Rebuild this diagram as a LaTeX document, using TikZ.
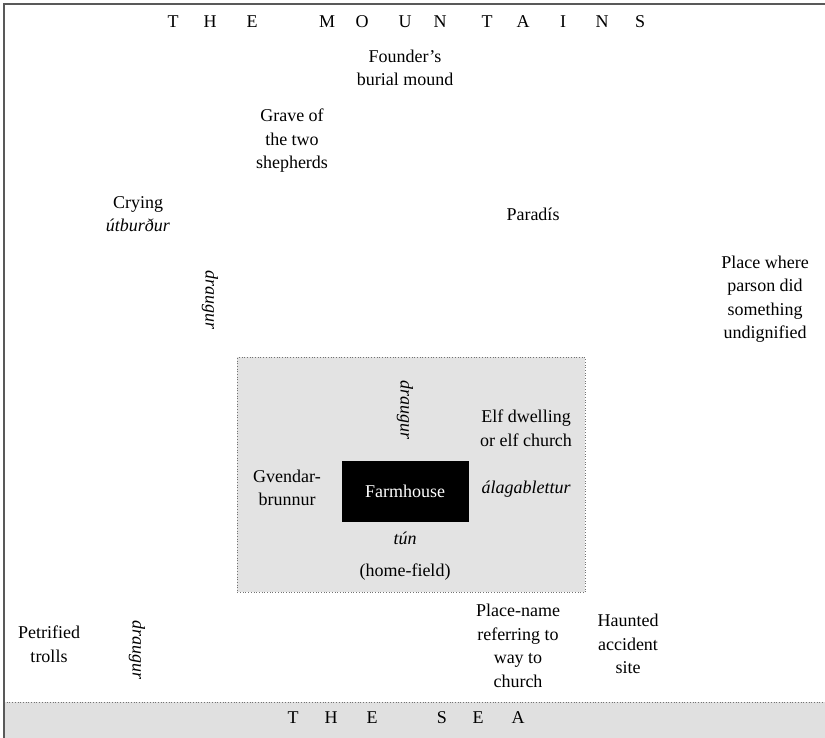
\documentclass[tikz,border=0pt]{standalone}
\usepackage{fontspec}
\setmainfont{Liberation Serif}
\usetikzlibrary{positioning}

\begin{document}
\begin{tikzpicture}[
    x=1pt, y=-1pt,
    font=\fontsize{18}{23.5}\selectfont,
    lbl/.style={align=center, inner sep=1pt},
    it/.style={lbl, font=\fontsize{18}{23.5}\selectfont\itshape},
    vert/.style={it, rotate=-90},
    zone/.style={fill=black!11, draw=black!55, dotted, line width=0.7pt},
]
    \useasboundingbox (0,0) rectangle (825,738);
    % sea band and frame
    \fill[black!12] (4,702) rectangle (825,738);
    \draw[black!55, dotted, line width=0.7pt] (4,702) -- (825,702);
    \draw[black!65, line width=1.5pt] (4,738) -- (4,4) -- (825,4);
    % home-field and farmhouse
    \node[zone, minimum width=348pt, minimum height=235pt, anchor=north west] (field) at (237,357) {};
    \node[fill=black, text=white, minimum width=127pt, minimum height=61pt] (farm) at (405,491) {Farmhouse};
    % headings
    \foreach \ch/\x in {T/173,H/210,E/252,M/327,O/362,U/405,N/440,T/487,A/523,I/563,N/602,S/640}
        \node[lbl] (mt\x) at (\x,22) {\ch};
    \foreach \ch/\x in {T/293,H/331,E/372,S/442,E/478,A/518}
        \node[lbl] (sea\x) at (\x,718) {\ch};
    % places
    \node[lbl] (mound) at (405,68) {Founder's\\burial mound};
    \node[lbl] (grave) at (292,141) {Grave of\\the two\\shepherds};
    \node[lbl] (crying) at (138,214) {Crying\\\textit{útburður}};
    \node[lbl] (paradis) at (533,214) {Paradís};
    \node[vert] (drA) at (210,300) {draugur};
    \node[lbl] (parson) at (765,299) {Place where\\parson did\\something\\undignified};
    \node[vert] (drB) at (405,410) {draugur};
    \node[lbl] (elf) at (526,428) {Elf dwelling\\or elf church};
    \node[lbl] (gvend) at (287,488) {Gvendar-\\brunnur};
    \node[it] (ala) at (526,489) {álagablettur};
    \node[it] (tunlbl) at (405,538) {tún};
    \node[lbl] (home) at (405,572) {(home-field)};
    \node[lbl] (trolls) at (49,644) {Petrified\\trolls};
    \node[vert] (drC) at (137,650) {draugur};
    \node[lbl] (church) at (518,646) {Place-name\\referring to\\way to\\church};
    \node[lbl] (haunt) at (628,644) {Haunted\\accident\\site};
\end{tikzpicture}
\end{document}
